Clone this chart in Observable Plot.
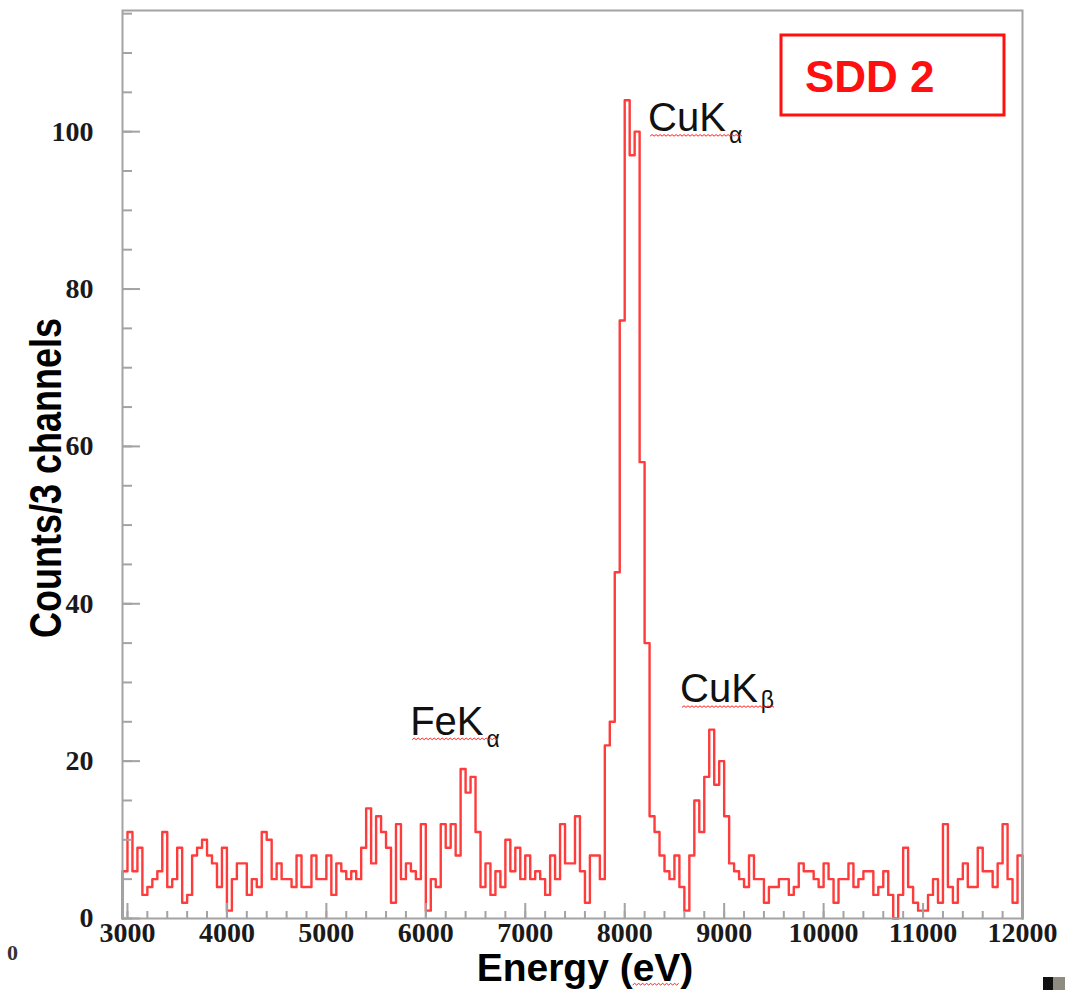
<!DOCTYPE html>
<html>
<head>
<meta charset="utf-8">
<script src="https://cdn.jsdelivr.net/npm/d3@7"></script>
<script src="https://cdn.jsdelivr.net/npm/@observablehq/plot@0.6"></script>
<style>
  html, body { margin: 0; padding: 0; background: #ffffff; }
  #wrap { position: relative; width: 1065px; height: 990px; overflow: hidden; background: #ffffff; }
</style>
</head>
<body>
<div id="wrap"></div>
<script>
// ---------------- data ----------------
// histogram: 50 eV bins (3 channels each), first bin starts at 2950 eV
const binStart = 2950;
const binWidth = 50;
const xMax = 12000;
// counts per bin, in energy order
const countsLow   = [6,11,6,9,3,4,5,6,11,4, 5,9,2,3,8,9,10,8,7,4, 9,1,5,7,7,3,5,4,11,10,
                     5,7,5,5,4,8,4,4,8,5, 5,8,3,7,6,5,6,5,9,14, 7,13,11,9,2,12,5,7,6,5, 12]; // 2950-5950
const countsFe    = [1,5,4,12,9,12,8,19,16,18, 11,4,7,3,6,4,10,6,9,5, 8,5,6,5,3,8,5,12,7,7, 13,6,2,8,8,5]; // 6000-7750
const countsCuKa  = [22,25,44,76,104,97,100,58,35];            // 7800-8200
const countsCuKb  = [13,11,8,6,5,8,4,1,8,15,11,18,24];         // 8250-8850
const countsHigh  = [17,20,13,7,6,5,4,8,5,5, 2,4,4,5,5,3,4,7,6,6, 5,4,7,5,2,5,5,7,4,5,
                     6,6,3,4,6,3,0,3,9,4, 2,1,1,3,5,2,12,4,2,5, 7,4,4,9,6,6,4,7,12,5, 2,8]; // 8900-11950

const xMajorTicks = [3000,4000,5000,6000,7000,8000,9000,10000,11000,12000];
const yMajorTicks = [0,20,40,60,80,100];

// peak annotations (energy eV, counts)
const peakNames  = ["CuK","CuK","FeK"];
const peakSubs   = ["α","β","α"];
const peakEnergy = [8240, 8561, 5848];
const peakCount  = [100, 27.4, 23.3];

// ---------------- build ----------------
const counts = [...countsLow, ...countsFe, ...countsCuKa, ...countsCuKb, ...countsHigh];
const steps = [{e: binStart, c: 0}];
counts.forEach((c, i) => steps.push({e: binStart + i * binWidth, c}));
steps.push({e: xMax, c: counts[counts.length - 1]});
steps.push({e: xMax, c: 0});

const xMinorTicks = d3.range(3000, 12001, 200);
const yMinorTicks = d3.range(0, 116, 5);

const axisGray = "#a3a3a3";
const serif = "'Liberation Serif', 'Times New Roman', serif";
const sans = "'Liberation Sans', Arial, sans-serif";

const chart = Plot.plot({
  width: 1065,
  height: 990,
  marginLeft: 122,
  marginRight: 43,
  marginTop: 10,
  marginBottom: 72,
  x: {domain: [binStart, xMax]},
  y: {domain: [0, 115.4]},
  style: {background: "#ffffff", overflow: "visible"},
  marks: [
    Plot.line(steps, {x: "e", y: "c", curve: "step-after", stroke: "#ff3c3c", strokeWidth: 2.4}),
    Plot.frame({stroke: axisGray, strokeWidth: 2}),
    Plot.axisX({ticks: xMinorTicks, tickSize: -7, stroke: axisGray, strokeWidth: 2, tickFormat: () => "", label: null}),
    Plot.axisX({ticks: xMajorTicks, tickSize: -15, stroke: axisGray, strokeWidth: 2, tickFormat: () => "", label: null}),
    Plot.axisY({ticks: yMinorTicks, tickSize: -10, stroke: axisGray, strokeWidth: 2, tickFormat: () => "", label: null}),
    Plot.axisY({ticks: yMajorTicks, tickSize: -18, stroke: axisGray, strokeWidth: 2, tickFormat: () => "", label: null}),
    Plot.axisX({ticks: xMajorTicks, tickSize: 0, tickPadding: 4, tickFormat: d => String(d), label: null,
                fontSize: 28, fontFamily: serif, fontWeight: "bold", fill: "#1a1a1a", ariaLabel: "x-labels"}),
    Plot.axisY({ticks: yMajorTicks, tickSize: 0, tickPadding: 29, tickFormat: d => String(d), label: null,
                fontSize: 28, fontFamily: serif, fontWeight: "bold", fill: "#1a1a1a"})
  ]
});
document.getElementById("wrap").appendChild(chart);

// ---------------- text / decorations ----------------
const svg = d3.select(chart);
const xs = chart.scale("x"), ys = chart.scale("y");

// x tick labels in the reference are drawn taller than wide
svg.selectAll('g[aria-label="x-labels"] text').each(function() {
  const tr = this.getAttribute("transform") || "";
  this.setAttribute("transform", tr + " scale(1,1.12)");
});

function squiggle(x0, x1, y) {
  let d = `M${x0},${y}`;
  let up = true;
  for (let x = x0 + 2; x <= x1; x += 2) { d += `L${x},${y + (up ? -1.6 : 0)}`; up = !up; }
  return d;
}

const deco = svg.append("g").attr("text-anchor", "start");

peakNames.forEach((name, i) => {
  const px = xs.apply(peakEnergy[i]);
  const py = ys.apply(peakCount[i]);
  const t = deco.append("text")
    .attr("x", px).attr("y", py).attr("text-anchor", "start")
    .attr("font-family", sans).attr("font-size", 40).attr("fill", "#111");
  t.append("tspan").text(name);
  t.append("tspan").attr("font-size", 23).attr("dx", 3).attr("dy", peakSubs[i] === "β" ? 6 : 12).text(peakSubs[i]);
  const bb = t.node().getBBox();
  deco.append("path").attr("d", squiggle(bb.x + 2, bb.x + bb.width, py + 5))
    .attr("fill", "none").attr("stroke", "#ff2020").attr("stroke-width", 1);
});

// y axis title
deco.append("text")
  .attr("transform", "translate(61,478) rotate(-90) scale(1,1.25)")
  .attr("text-anchor", "middle")
  .attr("font-family", sans).attr("font-weight", "bold").attr("font-size", 36).attr("fill", "#000")
  .text("Counts/3 channels");

// x axis title
const xt = deco.append("text")
  .attr("x", 585).attr("y", 981)
  .attr("text-anchor", "middle")
  .attr("font-family", sans).attr("font-weight", "bold").attr("font-size", 39).attr("fill", "#000")
  .text("Energy (eV)");
{
  const n = xt.node();
  const a = n.getExtentOfChar(8), b = n.getExtentOfChar(9);
  deco.append("path").attr("d", squiggle(a.x, b.x + b.width, 985))
    .attr("fill", "none").attr("stroke", "#ff2020").attr("stroke-width", 1);
}

// SDD 2 box
deco.append("rect").attr("x", 781).attr("y", 35).attr("width", 223).attr("height", 80)
  .attr("fill", "#ffffff").attr("stroke", "#ff1010").attr("stroke-width", 3);
deco.append("text").attr("x", 805).attr("y", 92).attr("text-anchor", "start")
  .attr("font-family", sans).attr("font-weight", "bold").attr("font-size", 44).attr("fill", "#ff1010")
  .text("SDD 2");

// stray zero at far left
deco.append("text").attr("x", 7).attr("y", 960).attr("text-anchor", "start")
  .attr("font-family", serif).attr("font-weight", "bold").attr("font-size", 22).attr("fill", "#333")
  .text("0");

// corner block
deco.append("rect").attr("x", 1043).attr("y", 977).attr("width", 10).attr("height", 13).attr("fill", "#111");
deco.append("rect").attr("x", 1053).attr("y", 977).attr("width", 12).attr("height", 13).attr("fill", "#8e8c80");
</script>
</body>
</html>
